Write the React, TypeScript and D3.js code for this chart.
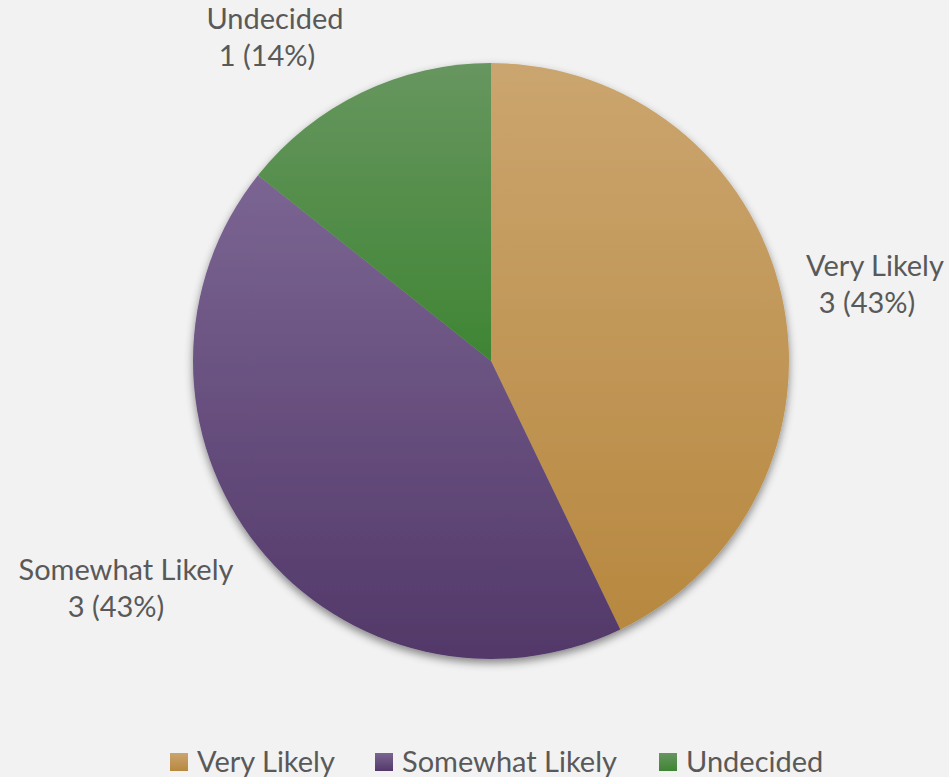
import React from "react";
import * as d3 from "d3";

const categories = ["Very Likely", "Somewhat Likely", "Undecided"];
const values = [3, 3, 1];
const percentLabels = ["3 (43%)", "3 (43%)", "1 (14%)"];
const colorTop = ["#cba56f", "#7b6592", "#67965f"];
const colorBottom = ["#b7883f", "#523869", "#3f8534"];

const W = 949;
const H = 777;
const cx = 491;
const cy = 361;
const R = 298;
const FONT = "Lato, 'Open Sans', sans-serif";
const FS = 29;

const labelPos = [
  { x1: 875, x2: 867, y: 276 },
  { x1: 126, x2: 116, y: 580 },
  { x1: 275, x2: 267, y: 29 },
];

const legendItems = [
  { sx: 170, tx: 197 },
  { sx: 375, tx: 402 },
  { sx: 659, tx: 686 },
];

export default function App() {
  const pie = d3.pie<number>().sort(null).value((d) => d);
  const arcs = pie(values);
  const arcGen = d3.arc<d3.PieArcDatum<number>>().innerRadius(0).outerRadius(R);

  return (
    <div style={{ position: "fixed", left: 0, top: 0, width: W, height: H }}>
      <svg width={W} height={H} style={{ display: "block", background: "#f2f2f2" }}>
        <defs>
          {categories.map((c, i) => (
            <linearGradient key={c} id={`g${i}`} x1="0" y1="0" x2="0" y2="1">
              <stop offset="0" stopColor={colorTop[i]} />
              <stop offset="1" stopColor={colorBottom[i]} />
            </linearGradient>
          ))}
          <filter id="shadow" x="-20%" y="-20%" width="140%" height="140%">
            <feDropShadow dx="0" dy="4" stdDeviation="4" floodColor="#000" floodOpacity="0.45" />
          </filter>
        </defs>
        <rect width={W} height={H} fill="#f2f2f2" />
        <g transform={`translate(${cx},${cy})`} filter="url(#shadow)">
          {arcs.map((a, i) => (
            <path key={categories[i]} d={arcGen(a) || ""} fill={`url(#g${i})`} />
          ))}
        </g>
        {categories.map((c, i) => (
          <g key={c}>
            <text
              x={labelPos[i].x1}
              y={labelPos[i].y}
              textAnchor="middle"
              fontFamily={FONT}
              fontSize={FS}
              fill="#595959"
            >
              {c}
            </text>
            <text
              x={labelPos[i].x2}
              y={labelPos[i].y + 37}
              textAnchor="middle"
              fontFamily={FONT}
              fontSize={FS}
              fill="#595959"
            >
              {percentLabels[i]}
            </text>
          </g>
        ))}
        {categories.map((c, i) => (
          <g key={c}>
            <rect x={legendItems[i].sx} y={753} width={18} height={18} fill={`url(#g${i})`} />
            <text x={legendItems[i].tx} y={772} fontFamily={FONT} fontSize={FS} fill="#595959">
              {c}
            </text>
          </g>
        ))}
      </svg>
    </div>
  );
}
